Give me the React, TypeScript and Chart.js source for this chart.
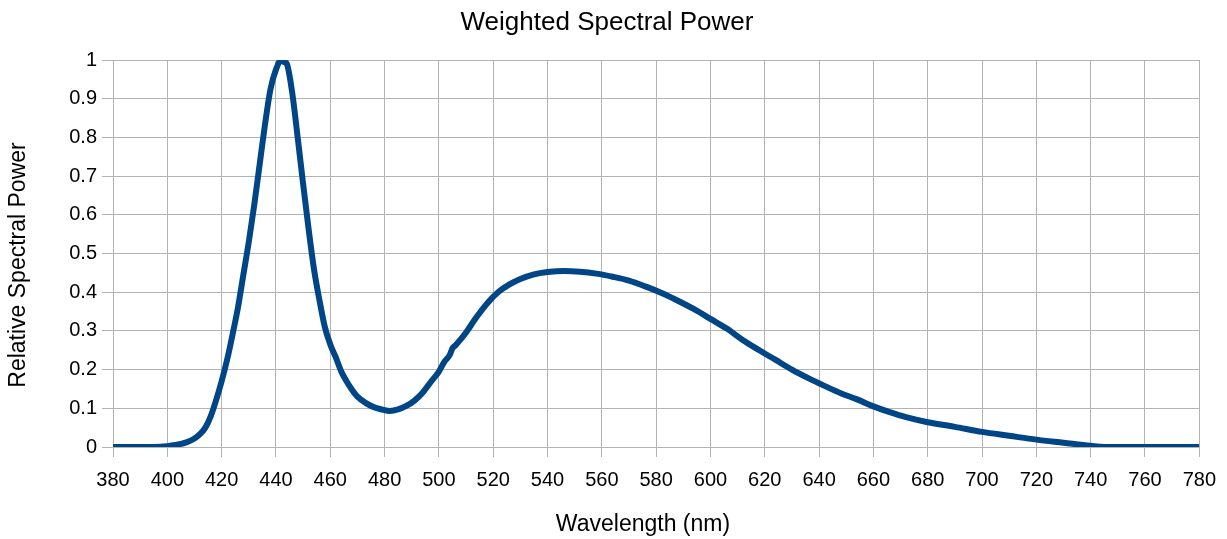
import React, { useEffect, useRef } from "react";
import { Chart, registerables } from "chart.js";

Chart.register(...registerables);

const wavelengths: number[] = [
  380, 385, 390, 395, 400, 403, 407, 410, 412, 414, 416, 418, 420, 422, 424, 426, 428, 430, 432, 434,
  436, 438, 440, 442, 443, 444, 446, 448, 450, 452, 454, 456, 458, 460, 462, 464, 466, 468, 470, 473,
  476, 479, 482, 485, 488, 491, 494, 497, 500, 502, 504, 505, 506, 508, 510, 514, 518, 522, 526, 530,
  535, 540, 546, 552, 558, 564, 570, 576, 582, 588, 594, 600, 606, 612, 618, 624, 630, 636, 642, 648,
  654, 660, 666, 672, 680, 690, 700, 710, 720, 730, 740, 745, 750, 760, 770, 780,
];

const power: number[] = [
  0, 0, 0, 0, 0.002, 0.005, 0.012, 0.022, 0.033, 0.05, 0.08, 0.122, 0.17, 0.225, 0.29, 0.36, 0.445, 0.53, 0.625, 0.73,
  0.835, 0.925, 0.975, 1.0, 0.995, 0.99, 0.915, 0.8, 0.68, 0.565, 0.46, 0.38, 0.31, 0.265, 0.232, 0.196, 0.17, 0.148, 0.13, 0.114,
  0.103, 0.097, 0.093, 0.097, 0.106, 0.12, 0.14, 0.168, 0.195, 0.22, 0.238, 0.255, 0.262, 0.278, 0.296, 0.337, 0.373, 0.401, 0.42, 0.434,
  0.446, 0.452, 0.455, 0.453, 0.448, 0.44, 0.43, 0.415, 0.398, 0.378, 0.356, 0.331, 0.306, 0.276, 0.25, 0.225, 0.2, 0.178, 0.158, 0.139,
  0.123, 0.105, 0.09, 0.077, 0.064, 0.052, 0.039, 0.029, 0.019, 0.011, 0.003, 0, 0, 0, 0, 0,
];

const xTickValues: number[] = [
  380, 400, 420, 440, 460, 480, 500, 520, 540, 560, 580, 600, 620, 640, 660, 680, 700, 720, 740, 760, 780,
];
const yTickLabels: string[] = ["0", "0.1", "0.2", "0.3", "0.4", "0.5", "0.6", "0.7", "0.8", "0.9", "1"];

const CHART_TITLE = "Weighted Spectral Power";
const X_TITLE = "Wavelength (nm)";
const Y_TITLE = "Relative Spectral Power";

const FONT = "'Liberation Sans', Arial, sans-serif";
const GRID = "#b3b3b3";

const titlesPlugin = {
  id: "chartTitles",
  afterDraw(chart: any) {
    const ctx = chart.ctx as CanvasRenderingContext2D;
    ctx.save();
    ctx.fillStyle = "#000";
    ctx.textAlign = "center";
    ctx.textBaseline = "middle";
    ctx.font = `26px ${FONT}`;
    ctx.fillText(CHART_TITLE, 607, 23);
    ctx.font = `23px ${FONT}`;
    ctx.fillText(X_TITLE, 643, 525);
    ctx.translate(19, 265);
    ctx.rotate(-Math.PI / 2);
    ctx.fillText(Y_TITLE, 0, 0);
    ctx.restore();
  },
};

export default function App() {
  const ref = useRef<HTMLCanvasElement | null>(null);

  useEffect(() => {
    if (!ref.current) return;
    const chart = new Chart(ref.current, {
      type: "line",
      data: {
        datasets: [
          {
            label: CHART_TITLE,
            data: wavelengths.map((w, i) => ({ x: w, y: power[i] })),
            borderColor: "#004586",
            backgroundColor: "#004586",
            borderWidth: 6,
            pointRadius: 0,
            cubicInterpolationMode: "monotone",
            fill: false,
          },
        ],
      },
      options: {
        animation: false,
        responsive: true,
        maintainAspectRatio: false,
        layout: { padding: { left: 0, right: 25, top: 60, bottom: 0 } },
        plugins: {
          legend: { display: false },
          tooltip: { enabled: false },
          title: { display: false },
        },
        scales: {
          x: {
            type: "linear",
            min: 380,
            max: 780,
            afterBuildTicks: (s: any) => {
              s.ticks = xTickValues.map((v) => ({ value: v }));
            },
            afterFit: (s: any) => {
              s.height = 92;
            },
            ticks: {
              color: "#000",
              font: { family: FONT, size: 20, lineHeight: 1.2 },
              padding: 11,
              maxRotation: 0,
              autoSkip: false,
              callback: (v: any) => String(v),
            },
            grid: { color: GRID, lineWidth: 1, tickLength: 10, drawTicks: true },
            border: { color: GRID, width: 1 },
            title: { display: false },
          },
          y: {
            type: "linear",
            min: 0,
            max: 1,
            afterBuildTicks: (s: any) => {
              s.ticks = yTickLabels.map((_, i) => ({ value: i / 10 }));
            },
            afterFit: (s: any) => {
              s.width = 113;
            },
            ticks: {
              color: "#000",
              font: { family: FONT, size: 20, lineHeight: 1.2 },
              padding: 5,
              autoSkip: false,
              callback: (_v: any, i: number) => yTickLabels[i],
            },
            grid: { color: GRID, lineWidth: 1, tickLength: 11, drawTicks: true },
            border: { color: GRID, width: 1 },
            title: { display: false },
          },
        },
      },
      plugins: [titlesPlugin],
    });
    return () => chart.destroy();
  }, []);

  return (
    <div style={{ position: "absolute", left: 0, top: 0, width: 1227, height: 539, background: "#fff" }}>
      <canvas ref={ref} />
    </div>
  );
}
